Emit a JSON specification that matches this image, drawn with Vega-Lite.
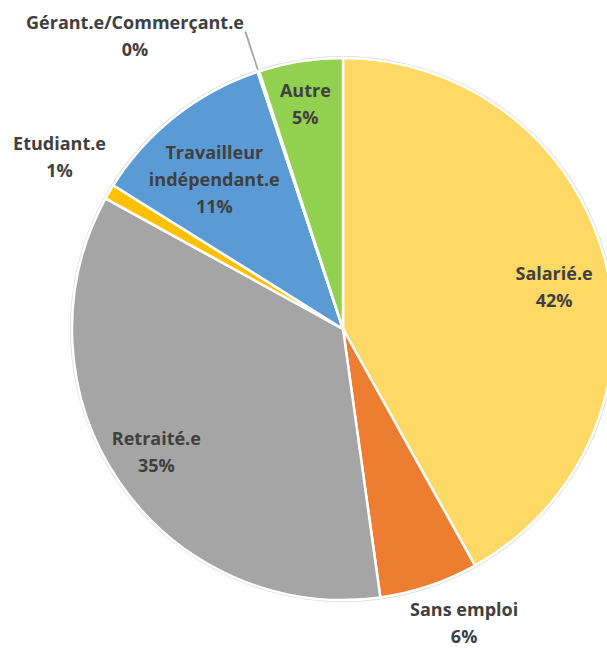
{
  "$schema": "https://vega.github.io/schema/vega-lite/v6.json",
  "width": 686,
  "height": 658,
  "autosize": "none",
  "padding": 0,
  "background": "white",
  "view": {"stroke": null},
  "config": {"text": {"font": "Open Sans", "fontWeight": "bold", "fontSize": 18, "color": "#404040", "lineBreak": "\n", "lineHeight": 27, "baseline": "middle", "align": "center"}},
  "data": {"values": [
    {"ordre": 1, "cat": "Salarié.e", "valeur": 41.9, "label": "Salarié.e\n42%"},
    {"ordre": 2, "cat": "Sans emploi", "valeur": 5.9, "label": "Sans emploi\n6%"},
    {"ordre": 3, "cat": "Retraité.e", "valeur": 35.2, "label": "Retraité.e\n35%"},
    {"ordre": 4, "cat": "Etudiant.e", "valeur": 0.9, "label": "Etudiant.e\n1%"},
    {"ordre": 5, "cat": "Travailleur indépendant.e", "valeur": 11.0, "label": "Travailleur\nindépendant.e\n11%"},
    {"ordre": 6, "cat": "Gérant.e/Commerçant.e", "valeur": 0.1, "label": "Gérant.e/Commerçant.e\n0%"},
    {"ordre": 7, "cat": "Autre", "valeur": 5.0, "label": "Autre\n5%"}
  ]},
  "encoding": {
    "theta": {"field": "valeur", "type": "quantitative", "stack": true},
    "order": {"field": "ordre", "type": "quantitative", "sort": "ascending"}
  },
  "layer": [
    {"mark": {"type": "arc", "outerRadius": 273, "fill": "#d9d9d9"}, "encoding": {}},
    {
      "mark": {"type": "arc", "outerRadius": 271, "stroke": "white", "strokeWidth": 2.5},
      "encoding": {
        "color": {"field": "cat", "type": "nominal", "legend": null,
          "scale": {"domain": ["Salarié.e", "Sans emploi", "Retraité.e", "Etudiant.e", "Travailleur indépendant.e", "Gérant.e/Commerçant.e", "Autre"],
                    "range": ["#FFD966", "#ED7D31", "#A5A5A5", "#FFC000", "#5B9BD5", "#4472C4", "#92D050"]}}
      }
    },
    {
      "mark": {"type": "arc", "innerRadius": 273, "outerRadius": 313, "fill": "#a6a6a6", "padAngle": 0.0},
      "encoding": {"opacity": {"condition": {"test": "datum.cat === 'Gérant.e/Commerçant.e'", "value": 1}, "value": 0}}
    },
    {"mark": {"type": "text", "radius": 215, "dx": 3, "dy": 0},
     "encoding": {"text": {"condition": {"test": "datum.cat === 'Salarié.e'", "field": "label"}, "value": ""}}},
    {"mark": {"type": "text", "radius": 318, "dx": 20, "dy": -19},
     "encoding": {"text": {"condition": {"test": "datum.cat === 'Sans emploi'", "field": "label"}, "value": ""}}},
    {"mark": {"type": "text", "radius": 223, "dx": -3, "dy": -16},
     "encoding": {"text": {"condition": {"test": "datum.cat === 'Retraité.e'", "field": "label"}, "value": ""}}},
    {"mark": {"type": "text", "radius": 331, "dx": 2, "dy": -16},
     "encoding": {"text": {"condition": {"test": "datum.cat === 'Etudiant.e'", "field": "label"}, "value": ""}}},
    {"mark": {"type": "text", "radius": 197, "dx": -7, "dy": -20},
     "encoding": {"text": {"condition": {"test": "datum.cat === 'Travailleur indépendant.e'", "field": "label"}, "value": ""}}},
    {"mark": {"type": "text", "radius": 343, "dx": -101, "dy": 21},
     "encoding": {"text": {"condition": {"test": "datum.cat === 'Gérant.e/Commerçant.e'", "field": "label"}, "value": ""}}},
    {"mark": {"type": "text", "radius": 228, "dx": -2, "dy": -12},
     "encoding": {"text": {"condition": {"test": "datum.cat === 'Autre'", "field": "label"}, "value": ""}}}
  ]
}
